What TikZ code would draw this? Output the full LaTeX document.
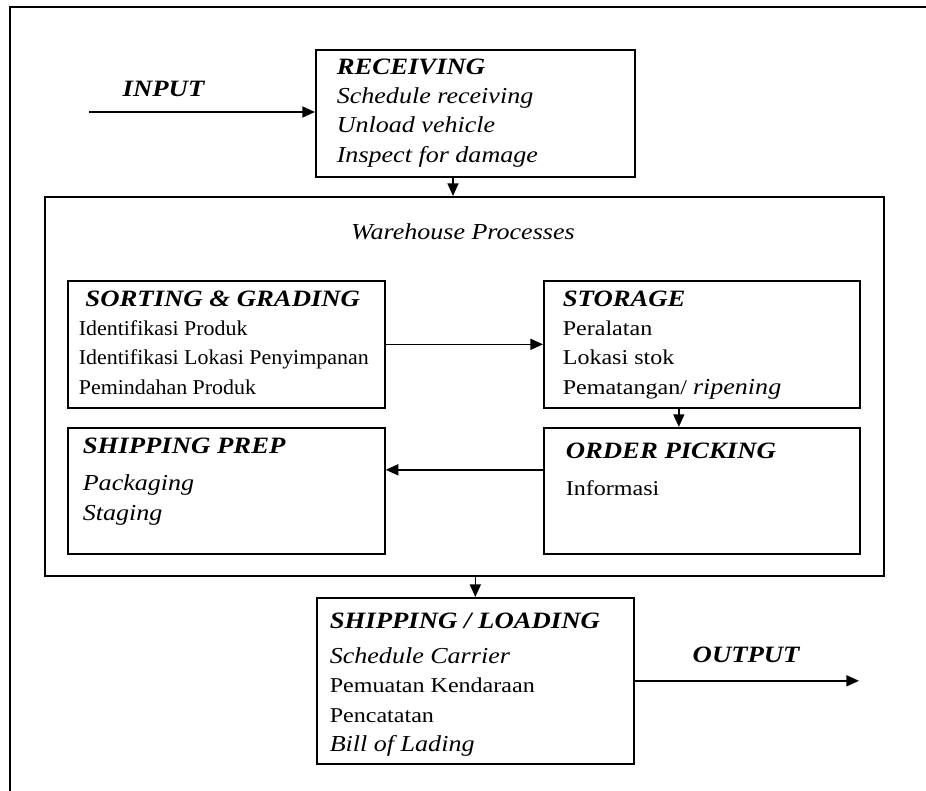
\documentclass[tikz,border=0pt]{standalone}
\usepackage{fontspec}
\setmainfont{Liberation Serif}[FakeStretch=1.14]
\newfontfamily\condfont{Liberation Serif}[FakeStretch=1.04]
\usetikzlibrary{positioning, arrows.meta}
\newcommand{\head}[1]{{\fontsize{20}{24}\selectfont\rmfamily\bfseries\itshape #1}}
\newcommand{\itl}[1]{{\fontsize{19.5}{25}\selectfont\itshape #1}}

\begin{document}
\begin{tikzpicture}[x=0.03cm, y=-0.03cm, line width=1.4pt,
  box/.style={draw, anchor=north west, inner sep=0pt},
  txt/.style={anchor=north west, inner sep=0pt, align=left, font=\fontsize{18}{25}\selectfont},
  >={Triangle[length=0.38cm, width=0.33cm]}]
\useasboundingbox (0,0) rectangle (926,791);
\draw[line width=2.5pt] (10,791) -- (10,7) -- (926,7);

% boxes
\node[box, minimum width=9.57cm, minimum height=3.81cm] (receiving) at (315,49) {};
\node[box, minimum width=25.17cm, minimum height=11.37cm] (warehouse) at (44,196) {};
\node[box, minimum width=9.51cm, minimum height=3.81cm] (sorting) at (67,280) {};
\node[box, minimum width=9.48cm, minimum height=3.81cm] (storage) at (543,280) {};
\node[box, minimum width=9.51cm, minimum height=3.78cm] (shipprep) at (67,427) {};
\node[box, minimum width=9.48cm, minimum height=3.78cm] (picking) at (543,427) {};
\node[box, minimum width=9.51cm, minimum height=4.98cm] (shipping) at (316,597) {};

% texts
\node[txt] (receivingtext) at (336,58) {\head{RECEIVING}\\ \itl{Schedule receiving}\\ \itl{Unload vehicle}\\ \itl{Inspect for damage}};
\node[anchor=base, font=\fontsize{19.5}{20}\selectfont\itshape] (title) at (463,240) {Warehouse Processes};
\node[txt, font=\fontsize{18}{25}\selectfont\condfont] (sortingtext) at (78,290) {\hspace*{0.2cm}\head{SORTING \& GRADING}\\ Identifikasi Produk\\ Identifikasi Lokasi Penyimpanan\\ Pemindahan Produk};
\node[txt] (storagetext) at (562,290) {\head{STORAGE}\\ Peralatan\\ Lokasi stok\\ Pematangan/ \itl{ripening}};
\node[txt] (shippreptext) at (82,437) {\head{SHIPPING PREP}\\[7pt] \itl{Packaging}\\ \itl{Staging}};
\node[txt] (pickingtext) at (565,442) {\head{ORDER PICKING}\\[7pt] Informasi};
\node[txt] (shippingtext) at (329,612) {\head{SHIPPING / LOADING}\\[5pt] \itl{Schedule Carrier}\\ Pemuatan Kendaraan\\ Pencatatan\\ \itl{Bill of Lading}};
\node[anchor=base west] (input) at (118,97) {\head{INPUT}};
\node[anchor=base west] (output) at (688,662) {\head{OUTPUT}};

% arrows
\coordinate (start) at (89,112);
\coordinate (end) at (859,678);
\draw[->] (start) -- (start -| receiving.west);
\draw[->] ([xshift=-0.67cm]receiving.south) -- ([xshift=-0.67cm]receiving.south |- warehouse.north);
\draw[->] (sorting.east) -- (storage.west);
\draw[->] ([xshift=-0.69cm]storage.south) -- ([xshift=-0.69cm]picking.north);
\draw[->] ([yshift=0.63cm]picking.west) -- ([yshift=0.63cm]picking.west -| shipprep.east);
\draw[->] (warehouse.south -| shipping.north) -- (shipping.north);
\draw[->] (shipping.east) -- (shipping.east -| end);

\end{tikzpicture}
\end{document}
